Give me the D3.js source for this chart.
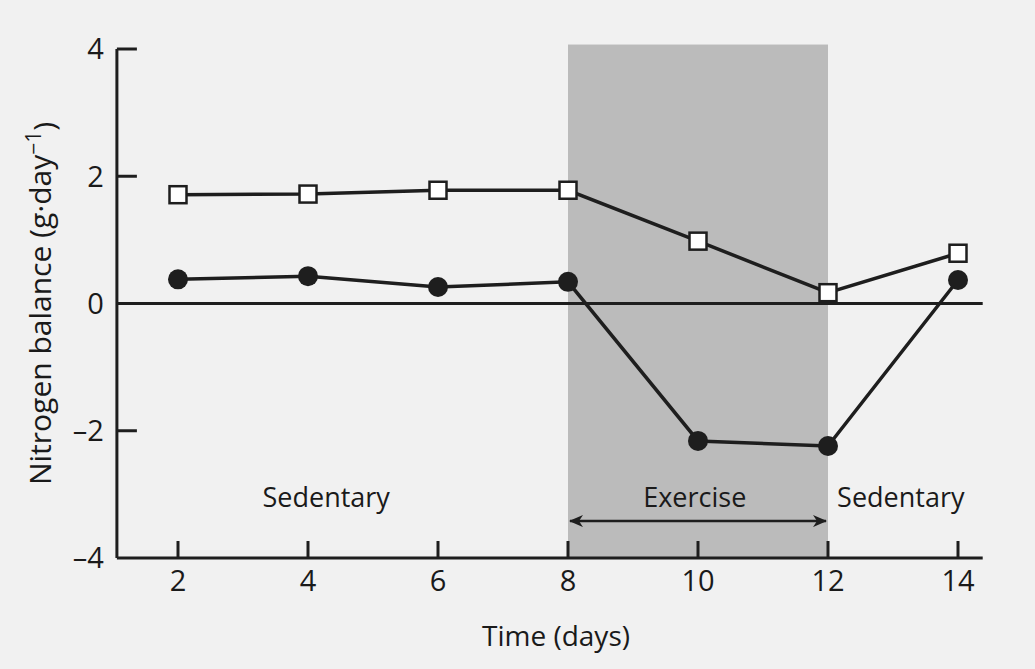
<!DOCTYPE html>
<html>
<head>
<meta charset="utf-8">
<script src="https://cdn.jsdelivr.net/npm/d3@7"></script>
<style>
  html, body { margin: 0; padding: 0; background: #f1f1f1; }
  svg { display: block; }
  text { font-family: "Open Sans", "Noto Sans", sans-serif; fill: #1a1a1a; }
</style>
</head>
<body>
<svg id="chart" width="1035" height="669"></svg>
<script>
// Days on which nitrogen balance was measured
const days = [2, 4, 6, 8, 10, 12, 14];
// Nitrogen balance, g·day⁻¹
const seriesSquare = [1.71, 1.72, 1.78, 1.78, 0.98, 0.17, 0.79];
const seriesCircle = [0.38, 0.43, 0.26, 0.34, -2.16, -2.24, 0.37];
const xTicks = [2, 4, 6, 8, 10, 12, 14];
const yTicks = [-4, -2, 0, 2, 4];
const exercisePeriod = [8, 12];
const phaseLabels = ["Sedentary", "Exercise", "Sedentary"];
const phaseCentres = [4.28, 9.95, 13.12];

const svg = d3.select("#chart");

const x = d3.scaleLinear().domain([2, 14]).range([178, 958]);
const y = d3.scaleLinear().domain([-4, 4]).range([558, 49]);
const xMin = 1.06, xMax = 14.38;
const ink = "#1e1e1e";
const fs = 29;

// Exercise period shading
svg.append("rect")
  .attr("x", x(exercisePeriod[0]))
  .attr("y", y(4.07))
  .attr("width", x(exercisePeriod[1]) - x(exercisePeriod[0]))
  .attr("height", y(-4) - y(4.07))
  .attr("fill", "#bbbbbb");

// Y axis: line with inward ticks
svg.append("line")
  .attr("x1", x(xMin)).attr("x2", x(xMin))
  .attr("y1", y(4)).attr("y2", y(-4))
  .attr("stroke", ink).attr("stroke-width", 3);
const yAxis = svg.append("g");
yAxis.selectAll("line").data(yTicks.filter(d => d > -4)).join("line")
  .attr("x1", x(xMin)).attr("x2", x(xMin) + 20)
  .attr("y1", d => y(d)).attr("y2", d => y(d))
  .attr("stroke", ink).attr("stroke-width", 3);
yAxis.selectAll("text").data(yTicks).join("text")
  .attr("x", x(xMin) - 13)
  .attr("y", d => y(d))
  .attr("dy", "0.36em")
  .attr("text-anchor", "end")
  .attr("font-size", fs)
  .text(d => d < 0 ? "\u2013" + Math.abs(d) : d);

// X axis: line with upward ticks
svg.append("line")
  .attr("x1", x(xMin)).attr("x2", x(xMax))
  .attr("y1", y(-4)).attr("y2", y(-4))
  .attr("stroke", ink).attr("stroke-width", 3);
const xAxis = svg.append("g");
xAxis.selectAll("line").data(xTicks).join("line")
  .attr("x1", d => x(d)).attr("x2", d => x(d))
  .attr("y1", y(-4)).attr("y2", y(-4) - 17)
  .attr("stroke", ink).attr("stroke-width", 3);
xAxis.selectAll("text").data(xTicks).join("text")
  .attr("x", d => x(d))
  .attr("y", y(-4) + 23)
  .attr("dy", "0.36em")
  .attr("text-anchor", "middle")
  .attr("font-size", fs)
  .text(d => d);

// Zero line
svg.append("line")
  .attr("x1", x(xMin)).attr("x2", x(xMax))
  .attr("y1", y(0)).attr("y2", y(0))
  .attr("stroke", ink).attr("stroke-width", 3);

// Axis titles
svg.append("text")
  .attr("x", 556)
  .attr("y", 636)
  .attr("dy", "0.36em")
  .attr("text-anchor", "middle")
  .attr("font-size", 28)
  .text("Time (days)");
const yTitle = svg.append("text")
  .attr("transform", `translate(40, ${y(0)}) rotate(-90)`)
  .attr("text-anchor", "middle")
  .attr("dy", "0.36em")
  .attr("font-size", 30);
yTitle.append("tspan").text("Nitrogen balance (g\u00b7day");
yTitle.append("tspan").attr("dy", "-0.45em").attr("font-size", 21).text("\u22121");
yTitle.append("tspan").attr("dy", "0.45em").text(")");

// Phase labels
svg.selectAll("text.phase").data(phaseLabels).join("text")
  .attr("class", "phase")
  .attr("x", (d, i) => x(phaseCentres[i]))
  .attr("y", y(-3.04))
  .attr("dy", "0.36em")
  .attr("text-anchor", "middle")
  .attr("font-size", 27)
  .text(d => d);

// Double-headed arrow spanning the exercise period
const defs = svg.append("defs");
defs.append("marker")
  .attr("id", "head")
  .attr("viewBox", "0 0 14 12")
  .attr("refX", 13).attr("refY", 6)
  .attr("markerWidth", 14).attr("markerHeight", 12)
  .attr("markerUnits", "userSpaceOnUse")
  .attr("orient", "auto-start-reverse")
  .append("path")
  .attr("d", "M0,0 L14,6 L0,12 L4,6 Z")
  .attr("fill", ink);
svg.append("line")
  .attr("x1", x(exercisePeriod[0]) + 2).attr("x2", x(exercisePeriod[1]) - 2)
  .attr("y1", y(-3.42)).attr("y2", y(-3.42))
  .attr("stroke", ink).attr("stroke-width", 2.5)
  .attr("marker-start", "url(#head)")
  .attr("marker-end", "url(#head)");

// Series lines
const line = d3.line().x(d => x(d[0])).y(d => y(d[1]));
svg.append("path")
  .datum(days.map((d, i) => [d, seriesSquare[i]]))
  .attr("d", line).attr("fill", "none")
  .attr("stroke", ink).attr("stroke-width", 3.5);
svg.append("path")
  .datum(days.map((d, i) => [d, seriesCircle[i]]))
  .attr("d", line).attr("fill", "none")
  .attr("stroke", ink).attr("stroke-width", 3.5);

// Markers
const sq = 17;
svg.selectAll("rect.sq").data(days.map((d, i) => [d, seriesSquare[i]])).join("rect")
  .attr("class", "sq")
  .attr("x", d => x(d[0]) - sq / 2)
  .attr("y", d => y(d[1]) - sq / 2)
  .attr("width", sq).attr("height", sq)
  .attr("fill", "#ffffff")
  .attr("stroke", ink).attr("stroke-width", 2.5);
svg.selectAll("circle.pt").data(days.map((d, i) => [d, seriesCircle[i]])).join("circle")
  .attr("class", "pt")
  .attr("cx", d => x(d[0]))
  .attr("cy", d => y(d[1]))
  .attr("r", 10)
  .attr("fill", ink);
</script>
</body>
</html>
